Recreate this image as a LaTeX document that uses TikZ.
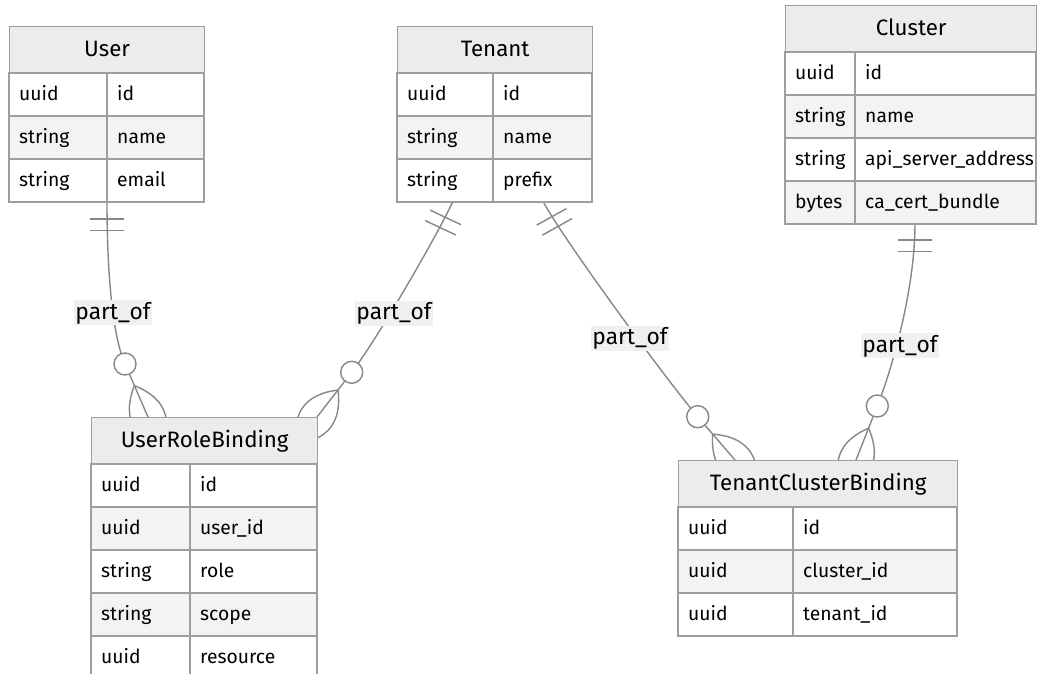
\documentclass[tikz,border=0pt]{standalone}
\usepackage{fontspec}
\setmainfont{Fira Sans}
\usetikzlibrary{calc}
\definecolor{bordc}{RGB}{158,158,158}
\definecolor{hdrfill}{RGB}{236,236,236}
\definecolor{altfill}{RGB}{243,243,243}
\definecolor{lnc}{RGB}{135,135,135}
\definecolor{lblfill}{RGB}{240,240,240}
\newcommand\rfont{\fontsize{19.3}{23}\selectfont}
\newcommand\hfont{\fontsize{22.3}{26}\selectfont}
\newcommand\lfont{\fontsize{22.8}{27}\selectfont}
% header: name, x0, x1, ytop, title
\newcommand\erhead[5]{%
  \node[hdr, minimum width={#3-#2}, minimum height=47] (#1) at (#2,#4) {#5};}
% row: x0, xd, x1, ytop, fill, type, field, name
\newcommand\erow[8]{%
  \draw[cellb, fill=#5] (#1,#4) rectangle (#2,#4+43);
  \draw[cellb, fill=#5] (#2,#4) rectangle (#3,#4+43);
  \node[ctext] (#8t) at (#1+10,#4+21.5) {#6};
  \node[ctext] (#8f) at (#2+10,#4+21.5) {#7};}
% link: start, c1, c2, circle centre, end
\newcommand\erlink[5]{%
  \draw[conn] (#1) .. controls (#2) and (#3) .. (#4) -- (#5);
  \path ($(#1)!17pt!(#2)$) coordinate (ba) ($(#1)!28.5pt!(#2)$) coordinate (bb);
  \draw[conn] ($(ba)!17pt!90:(#1)$) -- ($(ba)!17pt!-90:(#1)$);
  \draw[conn] ($(bb)!17pt!90:(#1)$) -- ($(bb)!17pt!-90:(#1)$);
  \path ($(#5)!34.2pt!(#4)$) coordinate (lt) ($(#5)!-34.2pt!(#4)$) coordinate (lf)
        ($(#5)!34.2pt!90:(#4)$) coordinate (lqa) ($(#5)!34.2pt!-90:(#4)$) coordinate (lqb);
  \draw[conn] (lt) .. controls ($(lt)!2/3!(lqa)$) and ($(lf)!2/3!(lqa)$) .. (lf)
              .. controls ($(lf)!2/3!(lqb)$) and ($(lt)!2/3!(lqb)$) .. (lt);
  \draw[conn, fill=white] (#4) circle[radius=11];}
\begin{document}
\begin{tikzpicture}[x=1pt,y=-1pt,
  hdr/.style={draw=bordc, line width=1.3pt, fill=hdrfill, font=\hfont, text height=15pt, text depth=2pt, inner sep=0pt, anchor=north west},
  cellb/.style={draw=bordc, line width=1.3pt},
  ctext/.style={anchor=west, font=\rfont, text height=15pt, text depth=3pt, inner sep=0pt},
  conn/.style={draw=lnc, line width=1.4pt},
  lbl/.style={fill=lblfill, font=\lfont, text height=16pt, text depth=3pt, inner xsep=1pt, inner ysep=0pt, minimum height=25}]
\useasboundingbox (0,0) rectangle (1037,674);
\clip (0,0) rectangle (1037,674);
\fill[white] (0,0) rectangle (1037,674);

% connection points
\coordinate (s1) at (107,202);   \coordinate (a1) at (107,262);
\coordinate (b1) at (111,332);   \coordinate (c1) at (125,364);   \coordinate (e1) at (148,417);
\coordinate (s2) at (452.7,202); \coordinate (a2) at (435.6,238.2);
\coordinate (b2) at (376.2,340.7); \coordinate (c2) at (351.7,372.3); \coordinate (e2) at (317,417);
\coordinate (s3) at (543.3,202); \coordinate (a3) at (567.6,245.7);
\coordinate (b3) at (671.6,386.4); \coordinate (c3) at (697.7,416.7); \coordinate (e3) at (735,460);
\coordinate (s4) at (915,223);   \coordinate (a4) at (915,290);
\coordinate (b4) at (892,368.8); \coordinate (c4) at (877.3,406); \coordinate (e4) at (856,460);

\erlink{s1}{a1}{b1}{c1}{e1}
\erlink{s2}{a2}{b2}{c2}{e2}
\erlink{s3}{a3}{b3}{c3}{e3}
\erlink{s4}{a4}{b4}{c4}{e4}

% User
\erhead{user}{9}{204}{26}{User}
\erow{9}{107}{204}{73}{white}{uuid}{id}{u1}
\erow{9}{107}{204}{116}{altfill}{string}{name}{u2}
\erow{9}{107}{204}{159}{white}{string}{email}{u3}
% Tenant
\erhead{tenant}{397}{592}{26}{Tenant}
\erow{397}{493}{592}{73}{white}{uuid}{id}{t1}
\erow{397}{493}{592}{116}{altfill}{string}{name}{t2}
\erow{397}{493}{592}{159}{white}{string}{prefix}{t3}
% Cluster
\erhead{cluster}{785}{1036}{5}{Cluster}
\erow{785}{855}{1036}{52}{white}{uuid}{id}{c1r}
\erow{785}{855}{1036}{95}{altfill}{string}{name}{c2r}
\erow{785}{855}{1036}{138}{white}{string}{api\_server\_address}{c3r}
\erow{785}{855}{1036}{181}{altfill}{bytes}{ca\_cert\_bundle}{c4r}
% UserRoleBinding
\erhead{urb}{91}{317}{417}{UserRoleBinding}
\erow{91}{190}{317}{464}{white}{uuid}{id}{r1}
\erow{91}{190}{317}{507}{altfill}{uuid}{user\_id}{r2}
\erow{91}{190}{317}{550}{white}{string}{role}{r3}
\erow{91}{190}{317}{593}{altfill}{string}{scope}{r4}
\erow{91}{190}{317}{636}{white}{uuid}{resource}{r5}
% TenantClusterBinding
\erhead{tcb}{678}{957}{460}{TenantClusterBinding}
\erow{678}{793}{957}{507}{white}{uuid}{id}{b1r}
\erow{678}{793}{957}{550}{altfill}{uuid}{cluster\_id}{b2r}
\erow{678}{793}{957}{593}{white}{uuid}{tenant\_id}{b3r}

% labels
\node[lbl] (l1) at (113,312.5) {part\_of};
\node[lbl] (l2) at (394,313) {part\_of};
\node[lbl] (l3) at (630,338) {part\_of};
\node[lbl] (l4) at (900,345.5) {part\_of};
\end{tikzpicture}
\end{document}
